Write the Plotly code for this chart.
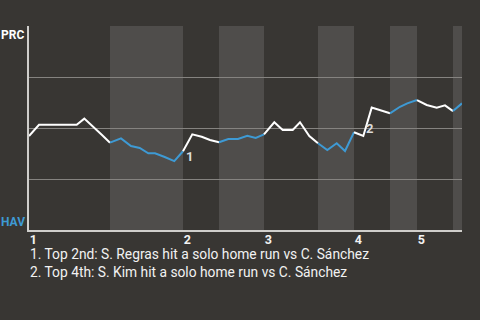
import plotly.graph_objects as go

# Plate-appearance positions (horizontal event scale) and PRC win probability (%)
pa_pos = [0, 10, 19.4, 28.8, 38.3, 47.7, 55.3, 64.2, 73, 81,
          92, 102, 110.7, 119.3, 126, 135.7, 145.3, 154, 163.3, 172.7,
          181, 190, 199.3, 209, 218.3, 226.7, 235, 245.3, 253.7, 263.7,
          271, 280.3, 289, 298.3, 307.7, 316, 325, 334.3, 342.7, 352,
          361, 371, 378.3, 388, 397.7, 407.7, 416, 424, 433]
prc_win = [46.1, 51.6, 51.6, 51.6, 51.6, 51.6, 54.6, 50.7, 46.6, 42.8,
           44.9, 41.2, 40.2, 37.6, 37.6, 35.8, 33.8, 38.6, 46.9, 45.7,
           44.1, 43.0, 44.6, 44.6, 46.2, 45.1, 46.9, 52.8, 49.0, 49.0,
           52.8, 46.1, 42.5, 39.2, 42.5, 38.7, 47.9, 46.1, 60.0, 58.6,
           57.2, 60.4, 62.1, 63.7, 61.3, 60.0, 61.1, 58.3, 62.1]

# index in the point list where each half inning starts (top 1, bot 1, top 2 ...)
half_starts = [0, 9, 17, 21, 26, 32, 36, 40, 43, 47]
innings = ["1", "2", "3", "4", "5"]
teams = ["PRC", "HAV"]
events = [
    "1. Top 2nd: S. Regras hit a solo home run vs C. Sánchez",
    "2. Top 4th: S. Kim hit a solo home run vs C. Sánchez",
]
event_marks = [("1", 17), ("2", 37)]

BG = "#383633"
BAND = "#4f4d4b"
WHITE = "#ffffff"
BLUE = "#3e9ad4"
FONT = "Roboto"

fig = go.Figure()
shapes = []
n = len(pa_pos)
for k, s in enumerate(half_starts):
    e = half_starts[k + 1] if k + 1 < len(half_starts) else n - 1
    bottom = (k % 2 == 1)
    if bottom:
        shapes.append(dict(type="rect", xref="x", yref="paper",
                           x0=pa_pos[s], x1=pa_pos[e], y0=0, y1=1,
                           fillcolor=BAND, line_width=0, layer="below"))
    fig.add_trace(go.Scatter(
        x=pa_pos[s:e + 1], y=prc_win[s:e + 1], mode="lines",
        line=dict(color=BLUE if bottom else WHITE, width=2),
        hoverinfo="skip", showlegend=False))

tickvals = [pa_pos[half_starts[2 * i]] for i in range(len(innings))]

annotations = [
    dict(text=f"<b>{teams[0]}</b>", xref="paper", yref="paper", x=0, y=1,
         xanchor="right", yanchor="top", xshift=-3, yshift=0, showarrow=False,
         font=dict(family=FONT, size=12, color=WHITE)),
    dict(text=f"<b>{teams[1]}</b>", xref="paper", yref="paper", x=0, y=0,
         xanchor="right", yanchor="bottom", xshift=-2, yshift=-1, showarrow=False,
         font=dict(family=FONT, size=12, color=BLUE)),
]
for i, line in enumerate(events):
    annotations.append(dict(text=line, xref="paper", yref="paper", x=0,
                            y=-0.117 - 0.088 * i, xanchor="left", yanchor="middle",
                            showarrow=False, xshift=-1,
                            font=dict(family=FONT, size=13.8, color="#f2f2f2")))
for label, idx in event_marks:
    annotations.append(dict(text=f"<b>{label}</b>", x=pa_pos[idx] + 1, y=prc_win[idx - 1] + 2,
                            xanchor="left", yanchor="middle", showarrow=False,
                            font=dict(family=FONT, size=13, color="#dcdcdc")))

fig.update_layout(
    width=480, height=320,
    margin=dict(l=29, r=18, t=26, b=90),
    paper_bgcolor=BG, plot_bgcolor=BG,
    shapes=shapes, annotations=annotations,
    xaxis=dict(range=[0, pa_pos[-1]], tickvals=tickvals, ticktext=innings,
               ticklabelposition="outside right", ticklabelstandoff=-3,
               showgrid=False, zeroline=False,
               showline=True, linecolor="#cfcecb", linewidth=1.5, ticks="",
               tickfont=dict(family=FONT, size=12.5, color="#f2f2f2", weight="bold")),
    yaxis=dict(range=[0, 100], tickvals=[0, 25, 50, 75, 100], showticklabels=False,
               showgrid=True, gridcolor="#858380", gridwidth=1, zeroline=False,
               showline=True, linecolor="#cfcecb", linewidth=1.5, ticks=""),
)

fig.write_html("out.html")
